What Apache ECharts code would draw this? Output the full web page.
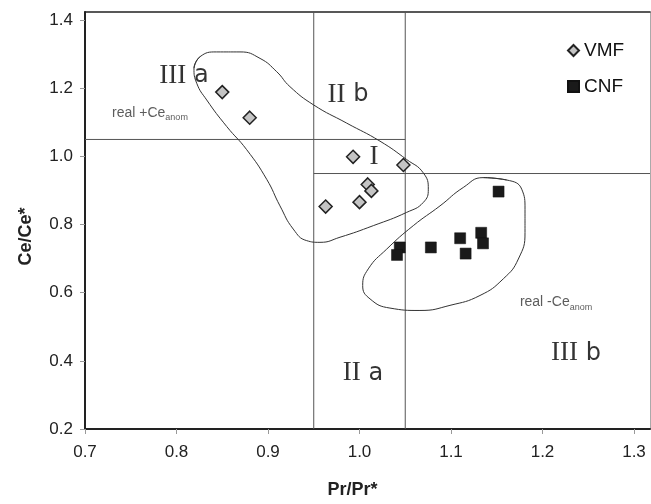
<!DOCTYPE html>
<html>
<head>
<meta charset="utf-8">
<script src="https://cdn.jsdelivr.net/npm/echarts@6/dist/echarts.min.js"></script>
<style>html,body{margin:0;padding:0;background:#fff}#c{width:651px;height:504px}</style>
</head>
<body>
<div id="c"></div>
<script>
// ---- data ----
const vmfX = [0.850, 0.880, 0.993, 1.048, 1.009, 1.013, 1.000, 0.963];
const vmfY = [1.189, 1.114, 0.999, 0.975, 0.918, 0.899, 0.866, 0.853];
const cnfX = [1.152, 1.044, 1.041, 1.078, 1.110, 1.133, 1.135, 1.116];
const cnfY = [0.897, 0.733, 0.711, 0.733, 0.760, 0.776, 0.745, 0.715];

// field boundaries
const prBounds = [0.95, 1.05];
const ceBounds = [0.95, 1.05];

// hand-drawn outlines (data coordinates)
const outline1X = [0.8191,0.8257,0.8439,0.8694,0.8913,0.9095,0.9240,0.9495,0.9860,1.0224,1.0516,1.0697,1.0752,1.0697,1.0516,1.0151,0.9787,0.9568,0.9423,0.9276,0.9131,0.8986,0.8767,0.8549,0.8330,0.8221];
const outline1Y = [1.259,1.293,1.307,1.307,1.288,1.249,1.205,1.152,1.098,1.045,0.991,0.952,0.904,0.865,0.836,0.797,0.763,0.748,0.753,0.787,0.855,0.933,1.020,1.088,1.166,1.215];
const outline2X = [1.1353,1.1609,1.1773,1.1809,1.1809,1.1736,1.1572,1.1317,1.0989,1.0661,1.0333,1.0115,1.0035,1.0096,1.0297,1.0588,1.0880,1.1134];
const outline2Y = [0.938,0.931,0.904,0.845,0.777,0.699,0.641,0.592,0.563,0.548,0.555,0.582,0.621,0.670,0.728,0.797,0.855,0.909];

// annotation texts
const fieldNames = ['III a', 'II b', 'I', 'II a', 'III b'];
const fieldX = [0.8082, 0.9874, 1.0158, 1.0038, 1.2366];
const fieldY = [1.2365, 1.181, 1.000, 0.3635, 0.422];
const anomTexts = ['real +Ce', 'real -Ce'];
const anomSub = 'anom';
const anomX = [0.771, 1.2148];
const anomY = [1.128, 0.571];

const xTicks = {min: 0.7, max: 1.3175, interval: 0.1};
const yTicks = {min: 0.2, max: 1.4242, interval: 0.2};

// ---- build ----
const zip = (a, b) => a.map((v, i) => [v, b[i]]);
const closeLoop = (xs, ys) => { const p = zip(xs, ys); return p.concat([p[0], p[1]]); };

const fieldLabelData = fieldNames.map((n, i) => {
  const parts = n.split(' ');
  const rom = parts[0];
  const letter = parts[1] ? ' ' + parts[1] : '';
  return {
    value: [fieldX[i], fieldY[i]],
    label: {formatter: '{r|' + rom + '}' + (letter ? '{s|' + letter + '}' : '')}
  };
});
const anomData = anomTexts.map((t, i) => ({
  value: [anomX[i], anomY[i]],
  label: {formatter: '{a|' + t + '}{b|' + anomSub + '}'}
}));

const lineStyleRegion = {color: '#555', width: 1};
const regionSeries = [
  [[xTicks.min, ceBounds[1]], [prBounds[1], ceBounds[1]]],
  [[prBounds[0], ceBounds[0]], [xTicks.max, ceBounds[0]]],
  [[prBounds[0], yTicks.min], [prBounds[0], yTicks.max]],
  [[prBounds[1], yTicks.min], [prBounds[1], yTicks.max]]
].map(d => ({
  type: 'line', data: d, symbol: 'none', silent: true,
  lineStyle: lineStyleRegion, z: 1, animation: false
}));

const chart = echarts.init(document.getElementById('c'), null, {renderer: 'canvas'});
chart.setOption({
  animation: false,
  backgroundColor: '#fff',
  grid: {left: 85, right: 1, top: 12, bottom: 73, containLabel: false},
  legend: {
    data: ['VMF', 'CNF'],
    orient: 'vertical', left: 562, top: 36,
    itemWidth: 11, itemHeight: 11, itemGap: 17,
    textStyle: {fontFamily: 'Liberation Sans', fontSize: 19, color: '#111'}
  },
  xAxis: [{
    type: 'value', min: xTicks.min, max: xTicks.max, interval: xTicks.interval,
    name: 'Pr/Pr*', nameLocation: 'middle', nameGap: 52,
    nameTextStyle: {fontFamily: 'Liberation Sans', fontSize: 18, fontWeight: 'bold', color: '#222', padding: [0, 30, 0, 0]},
    axisLine: {show: true, lineStyle: {color: '#222', width: 2}},
    axisTick: {show: true, length: 5, lineStyle: {color: '#999'}},
    axisLabel: {showMaxLabel: false, margin: 15, fontFamily: 'Liberation Sans', fontSize: 17, color: '#222',
      formatter: v => v.toFixed(1)},
    splitLine: {show: false}
  }, {
    type: 'value', position: 'top', min: xTicks.min, max: xTicks.max,
    axisLine: {show: true, onZero: false, lineStyle: {color: '#222', width: 1.5}},
    axisTick: {show: false}, axisLabel: {show: false}, splitLine: {show: false}
  }],
  yAxis: [{
    type: 'value', min: yTicks.min, max: yTicks.max, interval: yTicks.interval,
    name: 'Ce/Ce*', nameLocation: 'middle', nameGap: 50,
    nameTextStyle: {fontFamily: 'Liberation Sans', fontSize: 18, fontWeight: 'bold', color: '#222', padding: [0, 32, 0, 0]},
    axisLine: {show: true, lineStyle: {color: '#222', width: 2}},
    axisTick: {show: true, length: 5, lineStyle: {color: '#999'}},
    axisLabel: {showMaxLabel: false, margin: 12, fontFamily: 'Liberation Sans', fontSize: 17, color: '#222',
      formatter: v => v.toFixed(1)},
    splitLine: {show: false}
  }, {
    type: 'value', position: 'right', min: yTicks.min, max: yTicks.max,
    axisLine: {show: true, onZero: false, lineStyle: {color: '#aaa', width: 1}},
    axisTick: {show: false}, axisLabel: {show: false}, splitLine: {show: false}
  }],
  series: [
    ...regionSeries,
    {type: 'line', data: closeLoop(outline1X, outline1Y), smooth: 0.5, symbol: 'none', silent: true,
      lineStyle: {color: '#333', width: 1}, z: 2},
    {type: 'line', data: closeLoop(outline2X, outline2Y), smooth: 0.5, symbol: 'none', silent: true,
      lineStyle: {color: '#333', width: 1}, z: 2},
    {name: 'VMF', type: 'scatter', data: zip(vmfX, vmfY), symbol: 'diamond', symbolSize: 13,
      itemStyle: {color: '#c4c4c4', borderColor: '#222', borderWidth: 1.5, opacity: 1}, z: 5},
    {name: 'CNF', type: 'scatter', data: zip(cnfX, cnfY), symbol: 'rect', symbolSize: 11,
      itemStyle: {color: '#1a1a1a', borderColor: '#111', borderWidth: 0.5, opacity: 1}, z: 5},
    {type: 'scatter', data: fieldLabelData, symbolSize: 0, silent: true, z: 6,
      label: {show: true, position: 'inside',
        rich: {
          r: {fontFamily: 'Liberation Serif', fontSize: 27, color: '#000'},
          s: {fontFamily: 'DejaVu Sans', fontSize: 24, color: '#000'}
        }}},
    {type: 'scatter', data: anomData, symbolSize: 0, silent: true, z: 6,
      label: {show: true, position: 'inside',
        rich: {
          a: {fontFamily: 'Liberation Sans', fontSize: 14, color: '#333', lineHeight: 18},
          b: {fontFamily: 'Liberation Sans', fontSize: 9, color: '#333', verticalAlign: 'bottom', lineHeight: 10}
        }}}
  ]
});
</script>
</body>
</html>
